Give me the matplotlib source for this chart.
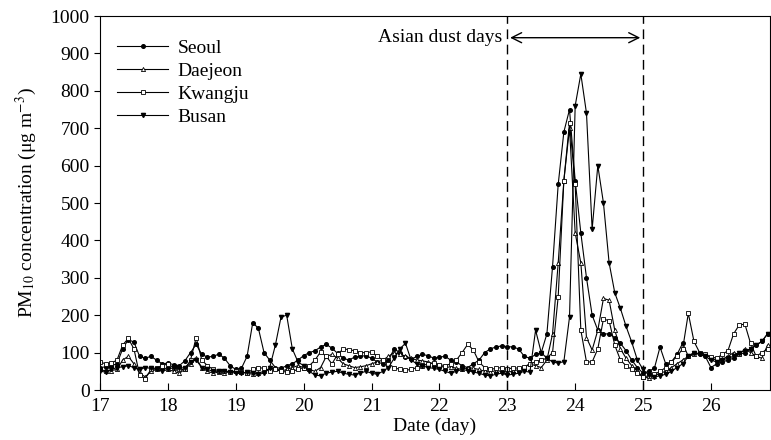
import numpy as np
import matplotlib
matplotlib.use("Agg")
import matplotlib.pyplot as plt

plt.rcParams['font.family'] = ['Liberation Serif', 'DejaVu Serif']
plt.rcParams['mathtext.fontset'] = 'stix'

# 2-hourly values, day 17.0 .. 26.83
seoul = [60, 62, 65, 70, 110, 135, 128, 90, 85, 90, 80, 70,
         72, 68, 65, 78, 100, 122, 95, 88, 90, 96, 85, 65,
         55, 58, 90, 180, 165, 100, 80, 60, 58, 65, 70, 80,
         92, 100, 105, 115, 122, 112, 98, 85, 80, 88, 90, 92,
         85, 75, 70, 80, 110, 100, 88, 82, 90, 95, 92, 85,
         88, 90, 80, 75, 65, 60, 70, 80, 100, 110, 115, 118,
         116, 115, 110, 90, 85, 95, 100, 150, 330, 550, 690, 750,
         560, 420, 300, 200, 160, 150, 150, 140, 125, 105, 80, 60,
         45, 50, 58, 115, 70, 75, 95, 125, 90, 100, 95, 90,
         60, 70, 75, 80, 85, 95, 100, 110, 120, 130, 150]
daejeon = [55, 50, 52, 55, 80, 90, 70, 45, 35, 50, 55, 60,
           55, 50, 45, 55, 70, 85, 60, 50, 45, 48, 45, 50,
           50, 48, 45, 42, 45, 50, 55, 60, 50, 55, 60, 65,
           60, 55, 50, 60, 90, 95, 85, 70, 65, 60, 62, 65,
           70, 75, 80, 90, 100, 95, 90, 85, 80, 78, 75, 70,
           65, 60, 62, 58, 55, 60, 58, 55, 50, 48, 52, 50,
           48, 50, 55, 60, 70, 65, 60, 80, 150, 340, 560, 700,
           420, 340, 140, 107, 160, 245, 240, 160, 110, 85, 65, 50,
           35, 32, 38, 45, 50, 60, 70, 80, 90, 95, 100, 95,
           85, 80, 82, 90, 100, 95, 110, 100, 90, 85, 120]
kwangju = [75, 70, 72, 80, 120, 138, 110, 40, 30, 55, 60, 65,
           70, 60, 55, 55, 80, 140, 80, 65, 55, 52, 50, 48,
           50, 48, 45, 55, 60, 58, 52, 55, 50, 48, 50, 55,
           60, 65, 80, 102, 90, 70, 95, 110, 108, 105, 100, 100,
           102, 90, 80, 70, 60, 55, 53, 55, 60, 65, 70, 72,
           68, 65, 70, 80, 100, 122, 107, 75, 60, 55, 58, 60,
           55, 60, 58, 62, 70, 75, 80, 85, 100, 250, 560, 715,
           550, 160, 75, 75, 110, 190, 185, 120, 80, 65, 55, 45,
           35, 38, 42, 50, 60, 75, 90, 110, 205, 130, 100, 95,
           89, 85, 95, 105, 150, 174, 176, 125, 90, 100, 110]
busan = [50, 48, 55, 60, 62, 65, 60, 55, 60, 58, 55, 50,
         55, 60, 58, 60, 75, 80, 60, 55, 50, 50, 52, 48,
         45, 45, 48, 45, 42, 45, 60, 120, 195, 200, 110, 75,
         65, 50, 40, 38, 45, 48, 50, 45, 42, 40, 45, 50,
         45, 42, 50, 60, 85, 110, 125, 80, 70, 65, 60, 58,
         55, 50, 45, 50, 55, 52, 48, 45, 40, 38, 42, 45,
         40, 42, 45, 50, 48, 160, 100, 85, 75, 72, 76, 195,
         760, 845, 740, 430, 600, 500, 340, 260, 218, 170, 128, 80,
         55, 40, 35, 38, 42, 50, 60, 70, 90, 100, 95, 90,
         80, 75, 80, 85, 90, 100, 105, 110, 120, 130, 150]

days = 17 + np.arange(len(seoul)) / 12.0

fig = plt.figure(figsize=(7.71, 4.40), dpi=100)
ax = fig.add_axes([0.1297, 0.1136, 0.8690, 0.85])

ax.plot(days, seoul, '-', color='k', lw=0.8, marker='o', ms=2.6, mfc='k', label='Seoul')
ax.plot(days, daejeon, '-', color='k', lw=0.8, marker='^', ms=3.0, mfc='white', mew=0.6, label='Daejeon')
ax.plot(days, kwangju, '-', color='k', lw=0.8, marker='s', ms=2.8, mfc='white', mew=0.6, label='Kwangju')
ax.plot(days, busan, '-', color='k', lw=0.8, marker='v', ms=3.0, mfc='k', label='Busan')

# dust period
ax.axvline(23, color='k', ls=(0, (7, 4)), lw=1)
ax.axvline(25, color='k', ls=(0, (7, 4)), lw=1)
ax.annotate('', xy=(23, 942), xytext=(25, 942),
            arrowprops=dict(arrowstyle='<->', color='k', lw=1, mutation_scale=18))
ax.text(22.93, 942, 'Asian dust days', ha='right', va='center', fontsize=14)

ax.set_xlim(17, 26.87)
ax.set_ylim(0, 1000)
ax.set_xticks(range(17, 27))
ax.set_yticks(range(0, 1001, 100))
ax.tick_params(axis='x', direction='in', length=5, labelsize=14, pad=6)
ax.tick_params(axis='y', direction='out', length=4, labelsize=14)
ax.set_xlabel('Date (day)', fontsize=14, labelpad=2)
ax.set_ylabel('PM$_{10}$ concentration (μg m$^{-3}$)', fontsize=14, labelpad=8)

ax.legend(loc='upper left', bbox_to_anchor=(0.0, 0.985), frameon=False, fontsize=14,
          handlelength=2.6, handletextpad=0.5, labelspacing=0.28)

fig.savefig('out.png', dpi=100)
